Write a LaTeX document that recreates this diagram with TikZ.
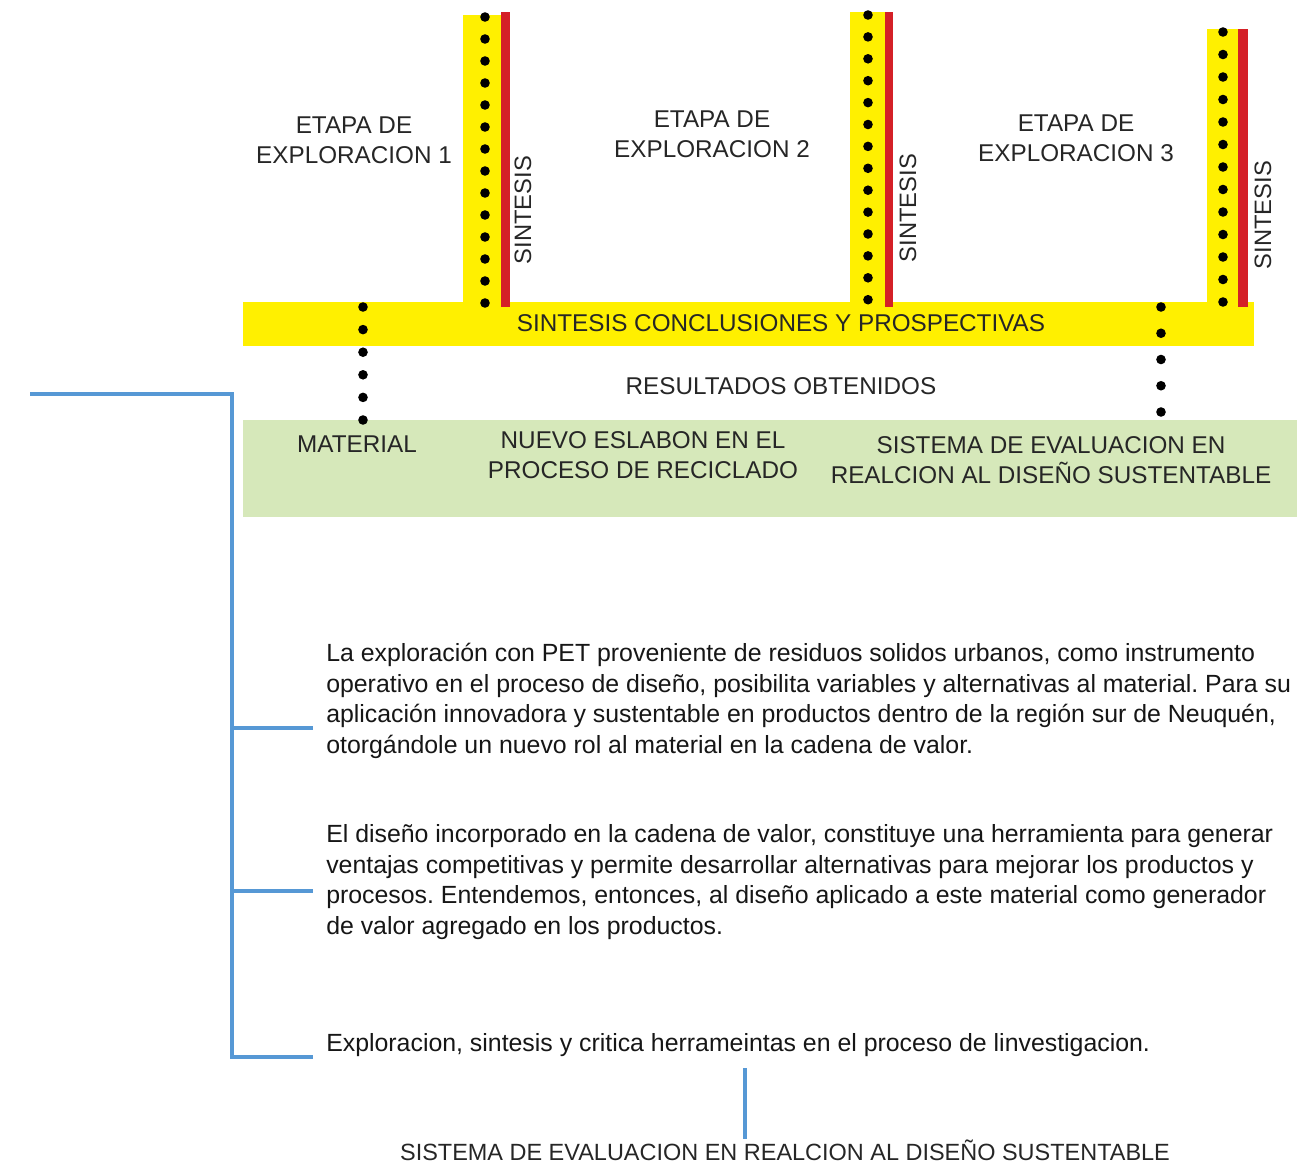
\documentclass[tikz,border=0pt]{standalone}
\usepackage{fontspec}
\setmainfont{Liberation Sans}
\usetikzlibrary{calc}
\definecolor{yelfill}{RGB}{255,240,0}
\definecolor{redfill}{RGB}{212,32,39}
\definecolor{grnfill}{RGB}{214,232,186}
\definecolor{bline}{RGB}{86,152,213}
\definecolor{txt}{RGB}{38,38,38}
\definecolor{ptxt}{RGB}{22,22,22}
\frenchspacing
\begin{document}
\begin{tikzpicture}[x=0.75pt,y=-0.75pt,
  head/.style={text=txt, font=\fontsize{18.2}{22.5}\selectfont, align=center, inner sep=0pt},
  para/.style={text=ptxt, font=\fontsize{18.65}{22.9}\selectfont, align=left, anchor=west, inner sep=0pt},
  vlab/.style={text=txt, font=\fontsize{17.8}{20}\selectfont, rotate=90, inner sep=0pt},
  bluel/.style={draw=bline, line width=3pt},
  bluebr/.style={draw=bline, line width=2.4pt},
  dotf/.style={fill=black}]
\useasboundingbox (0,0) rectangle (1297,1167);
% green results box
\fill[fill=grnfill] (243,420) rectangle (1297,517);
% horizontal yellow bar
\fill[fill=yelfill] (243,302) rectangle (1254,346);
% vertical bars
\fill[fill=yelfill] (463,15) rectangle (502,303);
\fill[fill=redfill] (501,12) rectangle (510,307);
\fill[fill=yelfill] (850,12) rectangle (886,303);
\fill[fill=redfill] (885,12) rectangle (893,307);
\fill[fill=yelfill] (1207,29) rectangle (1239,303);
\fill[fill=redfill] (1238,29) rectangle (1248,307);
% dots
\foreach \i in {0,...,13} \fill[dotf] (485,{17+\i*22}) circle (3.6pt);
\foreach \i in {0,...,13} \fill[dotf] (868,{15+\i*21.9}) circle (3.6pt);
\foreach \i in {0,...,12} \fill[dotf] (1223,{32+\i*22.5}) circle (3.6pt);
\foreach \i in {0,...,5} \fill[dotf] (363,{307+\i*22.6}) circle (3.6pt);
\foreach \i in {0,...,4} \fill[dotf] (1161,{307+\i*26.25}) circle (3.6pt);
% labels
\node[head] (e1) at (354,140) {ETAPA DE\\EXPLORACION 1};
\node[head] (e2) at (712,134) {ETAPA DE\\EXPLORACION 2};
\node[head] (e3) at (1076,138) {ETAPA DE\\EXPLORACION 3};
\node[vlab] (s1) at (523,210) {SINTESIS};
\node[vlab] (s2) at (908,208) {SINTESIS};
\node[vlab] (s3) at (1263,215) {SINTESIS};
\node[head] (scp) at (781,323) {SINTESIS CONCLUSIONES Y PROSPECTIVAS};
\node[head] (res) at (781,386) {RESULTADOS OBTENIDOS};
\node[head] (mat) at (357,444) {MATERIAL};
\node[head] (nue) at (643,455) {NUEVO ESLABON EN EL\\PROCESO DE RECICLADO};
\node[head] (sis) at (1051,460) {SISTEMA DE EVALUACION EN\\REALCION AL DISEÑO SUSTENTABLE};
% paragraphs
\node[para] (p1) at (326,701) {La exploración con PET proveniente de residuos solidos urbanos, como instrumento\\operativo en el proceso de diseño, posibilita variables y alternativas al material. Para su\\aplicación innovadora y sustentable en productos dentro de la región sur de Neuquén,\\otorgándole un nuevo rol al material en la cadena de valor.};
\node[para] (p2) at (326,882) {El diseño incorporado en la cadena de valor, constituye una herramienta para generar\\ventajas competitivas y permite desarrollar alternativas para mejorar los productos y\\procesos. Entendemos, entonces, al diseño aplicado a este material como generador\\de valor agregado en los productos.};
\node[para] (p3) at (326,1045) {Exploracion, sintesis y critica herrameintas en el proceso de linvestigacion.};
\node[head, font=\fontsize{17.6}{22}\selectfont] (fin) at (785,1150) {SISTEMA DE EVALUACION EN REALCION AL DISEÑO SUSTENTABLE};
% blue bracket
\coordinate (bt) at (30,394);
\coordinate (bc) at (232,394);
\coordinate (b1) at (232,728);
\coordinate (b2) at (232,891);
\coordinate (b3) at (232,1057);
\coordinate (q1) at (313,728);
\coordinate (q2) at (313,891);
\coordinate (q3) at (313,1057);
\draw[bluel] (bt) -- (bc) -- (b3) -- (q3);
\draw[bluebr] (b1) -- (q1);
\draw[bluebr] (b2) -- (q2);
\coordinate (v1) at (745,1068);
\draw[bluebr] (v1) -- (fin.north -| v1);
\end{tikzpicture}
\end{document}
